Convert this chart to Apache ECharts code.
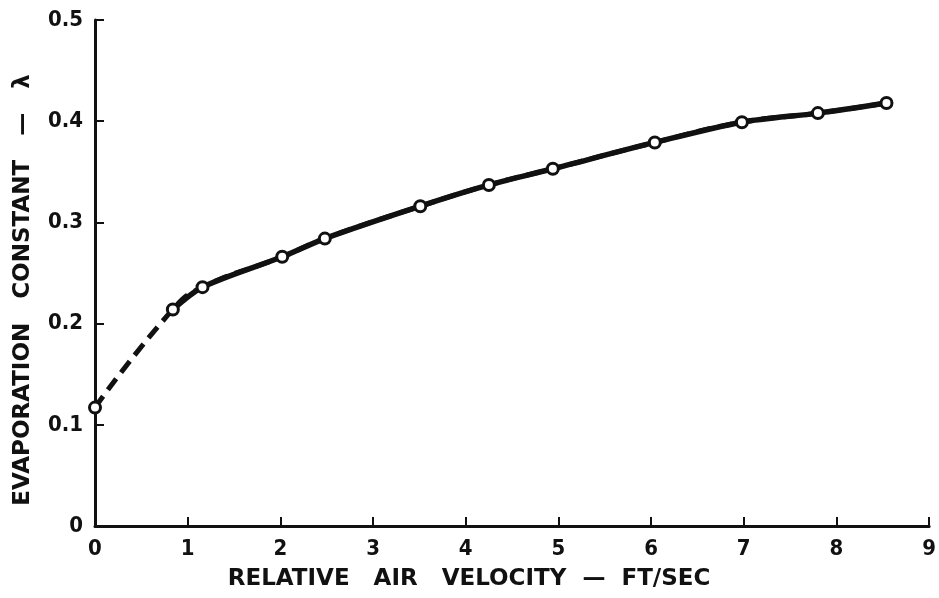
<!DOCTYPE html>
<html>
<head>
<meta charset="utf-8">
<script src="https://cdn.jsdelivr.net/npm/echarts@6/dist/echarts.min.js"></script>
<style>
  html, body { margin: 0; padding: 0; background: #fff; }
  #chart { width: 939px; height: 598px; }
</style>
</head>
<body>
<div id="chart"></div>
<script>
// Relative air velocity (ft/sec) and measured evaporation constant λ
const velocity = [0, 0.84, 1.16, 2.02, 2.48, 3.51, 4.25, 4.94, 6.04, 6.98, 7.80, 8.54];
const lambda = [0.117, 0.214, 0.236, 0.266, 0.284, 0.316, 0.337, 0.353, 0.379, 0.399, 0.408, 0.418];
// the curve is extrapolated (dashed) below the second measured point
const solidFrom = 1;

const xTicks = { min: 0, max: 9, interval: 1 };
const yTicks = { min: 0, max: 0.5, interval: 0.1 };

const points = velocity.map((v, i) => [v, lambda[i]]);
const ink = '#111';
const labelFont = '"DejaVu Sans Condensed", "DejaVu Sans", sans-serif';
const nameFont = '"DejaVu Sans", sans-serif';

const chart = echarts.init(document.getElementById('chart'));
chart.setOption({
  backgroundColor: '#fff',
  animation: false,
  grid: { left: 95, right: 7, top: 20, bottom: 72 },
  xAxis: {
    type: 'value',
    min: xTicks.min, max: xTicks.max, interval: xTicks.interval,
    name: 'RELATIVE   AIR   VELOCITY  —  FT/SEC',
    nameLocation: 'middle',
    nameGap: 42,
    nameTextStyle: { color: ink, fontFamily: nameFont, fontSize: 23, fontWeight: 'bold', padding: [0, 86, 0, 0] },
    axisLine: { lineStyle: { color: ink, width: 3 } },
    axisTick: { inside: true, length: 9, lineStyle: { color: ink, width: 2 } },
    axisLabel: { color: ink, fontFamily: labelFont, fontSize: 22, fontWeight: 'bold', margin: 12 },
    splitLine: { show: false }
  },
  yAxis: {
    type: 'value',
    min: yTicks.min, max: yTicks.max, interval: yTicks.interval,
    name: 'EVAPORATION   CONSTANT   —   λ',
    nameLocation: 'middle',
    nameGap: 60,
    nameTextStyle: { color: ink, fontFamily: nameFont, fontSize: 23, fontWeight: 'bold', padding: [0, 34, 0, 0] },
    axisLine: { lineStyle: { color: ink, width: 3 } },
    axisTick: { inside: true, length: 9, lineStyle: { color: ink, width: 2 } },
    axisLabel: { color: ink, fontFamily: labelFont, fontSize: 22, fontWeight: 'bold', margin: 12 },
    splitLine: { show: false }
  },
  series: [
    {
      type: 'line',
      data: points,
      smooth: 0.5,
      showSymbol: false,
      lineStyle: { color: ink, width: 5, type: [14, 8] },
      z: 2
    },
    {
      type: 'line',
      data: points.slice(solidFrom),
      smooth: 0.3,
      showSymbol: false,
      lineStyle: { color: ink, width: 5.5 },
      z: 3
    },
    {
      type: 'scatter',
      data: points,
      symbol: 'circle',
      symbolSize: 11,
      itemStyle: { color: '#fff', opacity: 1, borderColor: ink, borderWidth: 3 },
      z: 4
    }
  ]
});
</script>
</body>
</html>
